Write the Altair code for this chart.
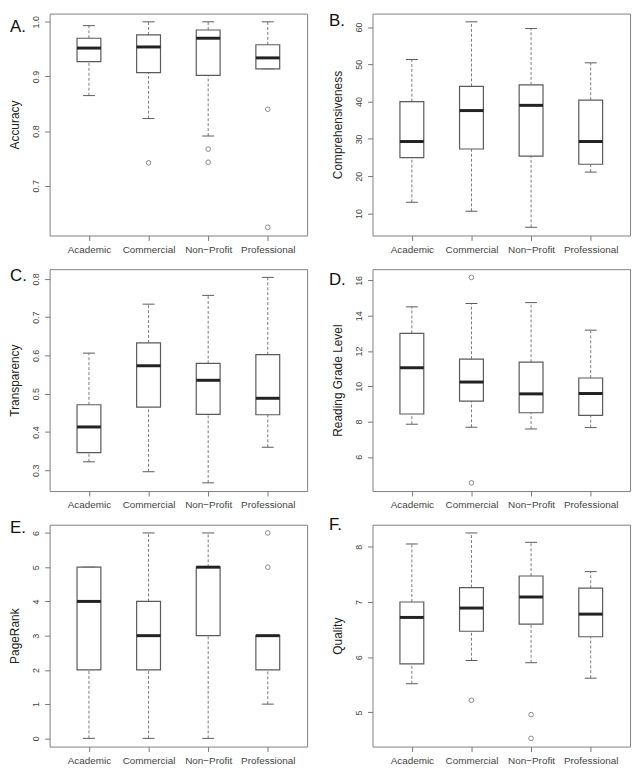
import altair as alt
import pandas as pd

categories = ["Academic", "Commercial", "Non\u2212Profit", "Professional"]

# A. Accuracy
acc_lo = [0.865, 0.823, 0.791, 0.914]
acc_q1 = [0.927, 0.907, 0.902, 0.914]
acc_med = [0.952, 0.954, 0.970, 0.934]
acc_q3 = [0.970, 0.976, 0.985, 0.958]
acc_hi = [0.993, 1.000, 1.000, 1.000]
acc_out_cat = ["Commercial", "Non\u2212Profit", "Non\u2212Profit", "Professional", "Professional"]
acc_out_val = [0.742, 0.767, 0.743, 0.840, 0.624]
acc_ticks = [0.7, 0.8, 0.9, 1.0]

# B. Comprehensiveness
comp_lo = [13.0, 10.6, 6.3, 21.1]
comp_q1 = [25.0, 27.3, 25.4, 23.2]
comp_med = [29.3, 37.6, 39.0, 29.3]
comp_q3 = [40.0, 44.1, 44.5, 40.4]
comp_hi = [51.3, 61.4, 59.6, 50.4]
comp_out_cat = []
comp_out_val = []
comp_ticks = [10, 20, 30, 40, 50, 60]

# C. Transparency
trans_lo = [0.322, 0.296, 0.267, 0.360]
trans_q1 = [0.346, 0.465, 0.446, 0.445]
trans_med = [0.413, 0.573, 0.535, 0.488]
trans_q3 = [0.471, 0.633, 0.579, 0.602]
trans_hi = [0.606, 0.734, 0.757, 0.804]
trans_out_cat = []
trans_out_val = []
trans_ticks = [0.3, 0.4, 0.5, 0.6, 0.7, 0.8]

# D. Reading Grade Level
read_lo = [7.85, 7.68, 7.58, 7.66]
read_q1 = [8.43, 9.16, 8.50, 8.35]
read_med = [11.05, 10.24, 9.57, 9.59]
read_q3 = [13.0, 11.54, 11.37, 10.47]
read_hi = [14.5, 14.69, 14.74, 13.18]
read_out_cat = ["Commercial", "Commercial"]
read_out_val = [16.17, 4.53]
read_ticks = [6, 8, 10, 12, 14, 16]

# E. PageRank
pr_lo = [0, 0, 0, 1]
pr_q1 = [2, 2, 3, 2]
pr_med = [4, 3, 5, 3]
pr_q3 = [5, 4, 5, 3]
pr_hi = [5, 6, 6, 3]
pr_out_cat = ["Professional", "Professional"]
pr_out_val = [5, 6]
pr_ticks = [0, 1, 2, 3, 4, 5, 6]

# F. Quality
qual_lo = [5.52, 5.94, 5.90, 5.62]
qual_q1 = [5.88, 6.47, 6.60, 6.37]
qual_med = [6.72, 6.89, 7.09, 6.78]
qual_q3 = [7.00, 7.26, 7.47, 7.25]
qual_hi = [8.05, 8.25, 8.08, 7.55]
qual_out_cat = ["Commercial", "Non\u2212Profit", "Non\u2212Profit"]
qual_out_val = [5.22, 4.96, 4.53]
qual_ticks = [5, 6, 7, 8]

BOX_COL = "#5a5a5a"
WHISK_COL = "#7a7a7a"
MED_COL = "#222222"

label_expr = "[" + ",".join("'" + c + "'" for c in categories) + "][datum.value - 1]"


def panel(letter, title, lo, q1, med, q3, hi, out_cat, out_val, ticks, fmt, letter_x, letter_y):
    df = pd.DataFrame({"cat": categories, "lo": lo, "q1": q1, "med": med, "q3": q3, "hi": hi})
    df["pos"] = list(range(1, len(categories) + 1))
    df["bx1"] = df["pos"] - 0.2
    df["bx2"] = df["pos"] + 0.2
    df["cx1"] = df["pos"] - 0.1
    df["cx2"] = df["pos"] + 0.1
    allv = list(lo) + list(hi) + list(out_val)
    vmin, vmax = min(allv), max(allv)
    pad = 0.04 * (vmax - vmin)
    yscale = alt.Scale(domain=[vmin - pad, vmax + pad], nice=False, zero=False)
    xscale = alt.Scale(domain=[0.34, 4.66], nice=False, zero=False)
    xaxis = alt.Axis(values=[1, 2, 3, 4], labelExpr=label_expr, title=None)
    yaxis = alt.Axis(values=ticks, format=fmt, title=title)

    def X(f):
        return alt.X(f + ":Q", scale=xscale, axis=xaxis)

    def Y(f):
        return alt.Y(f + ":Q", scale=yscale, axis=yaxis)

    base = alt.Chart(df)
    w_up = base.mark_rule(color=WHISK_COL, strokeDash=[3, 2], strokeWidth=1).encode(
        x=X("pos"), y=Y("q3"), y2="hi")
    w_dn = base.mark_rule(color=WHISK_COL, strokeDash=[3, 2], strokeWidth=1).encode(
        x=X("pos"), y=Y("lo"), y2="q1")
    cap_hi = base.mark_rule(color=BOX_COL, strokeWidth=1).encode(x=X("cx1"), x2="cx2", y=Y("hi"))
    cap_lo = base.mark_rule(color=BOX_COL, strokeWidth=1).encode(x=X("cx1"), x2="cx2", y=Y("lo"))
    box = base.mark_rect(fill="white", stroke=BOX_COL, strokeWidth=1.2).encode(
        x=X("bx1"), x2="bx2", y=Y("q1"), y2="q3")
    median = base.mark_rule(color=MED_COL, strokeWidth=3).encode(x=X("bx1"), x2="bx2", y=Y("med"))
    layers = [w_up, w_dn, cap_hi, cap_lo, box, median]
    if out_val:
        odf = pd.DataFrame({"cat": out_cat, "val": out_val})
        odf["pos"] = [categories.index(c) + 1 for c in out_cat]
        pts = alt.Chart(odf).mark_point(shape="circle", filled=False, color=BOX_COL, size=22,
                                        strokeWidth=1).encode(x=X("pos"), y=Y("val"))
        layers.append(pts)
    txt = alt.Chart(pd.DataFrame({"t": [letter]})).mark_text(
        align="left", baseline="alphabetic", fontSize=17, font="Liberation Sans", color="#111"
    ).encode(text="t:N", x=alt.value(letter_x), y=alt.value(letter_y))
    layers.append(txt)
    return alt.layer(*layers).properties(width=260, height=224)


pA = panel("A.", "Accuracy", acc_lo, acc_q1, acc_med, acc_q3, acc_hi, acc_out_cat, acc_out_val, acc_ticks, ".1f", -40, 19)
pB = panel("B.", "Comprehensiveness", comp_lo, comp_q1, comp_med, comp_q3, comp_hi, comp_out_cat, comp_out_val, comp_ticks, "d", -44, 13)
pC = panel("C.", "Transparency", trans_lo, trans_q1, trans_med, trans_q3, trans_hi, trans_out_cat, trans_out_val, trans_ticks, ".1f", -40, 12)
pD = panel("D.", "Reading Grade Level", read_lo, read_q1, read_med, read_q3, read_hi, read_out_cat, read_out_val, read_ticks, "d", -44, 16)
pE = panel("E.", "PageRank", pr_lo, pr_q1, pr_med, pr_q3, pr_hi, pr_out_cat, pr_out_val, pr_ticks, "d", -40, 8)
pF = panel("F.", "Quality", qual_lo, qual_q1, qual_med, qual_q3, qual_hi, qual_out_cat, qual_out_val, qual_ticks, "d", -44, 5)

chart = alt.concat(
    pA, pB, pC, pD, pE, pF,
    columns=2,
    spacing={"row": 34, "column": 66},
    bounds="flush",
).properties(
    padding={"left": 0, "top": 0, "right": 4, "bottom": 4}
).configure_view(
    stroke="#808080", strokeWidth=1
).configure_axis(
    grid=False, domain=False, tickColor="#777777", tickSize=5,
    labelColor="#444444", labelFont="Liberation Sans", titleFont="Liberation Sans",
    titleFontWeight="normal", titleColor="#222222"
).configure_axisX(
    labelFontSize=10, labelPadding=4
).configure_axisY(
    labelFontSize=9, labelAngle=270, labelPadding=4, titleFontSize=12, titlePadding=10
)

chart.save("out.html", embed_options={"renderer": "svg", "actions": False})
